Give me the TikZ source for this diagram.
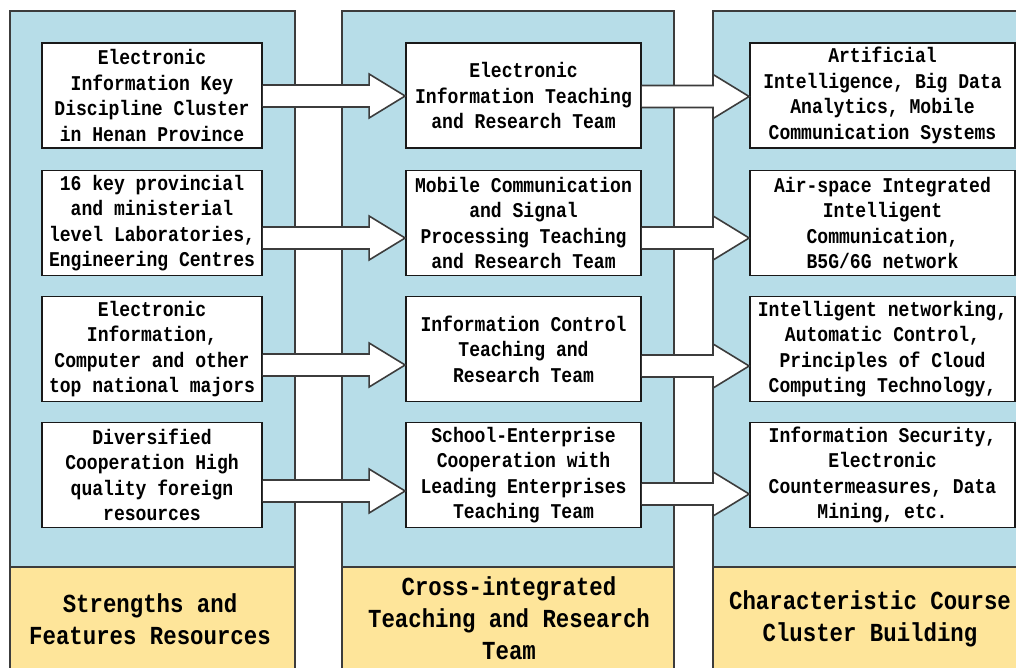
\documentclass[tikz,border=0pt]{standalone}
\usepackage{fontspec}
\newfontfamily\boxfont[FakeStretch=0.86]{Liberation Mono}
\usetikzlibrary{calc}
\definecolor{panelblue}{HTML}{B7DDE8}
\definecolor{titleyellow}{HTML}{FEE59A}
\definecolor{edgegray}{HTML}{3C3C3C}
\tikzset{
  panel/.style={fill=panelblue, draw=edgegray, line width=2pt},
  titlepanel/.style={fill=titleyellow, draw=edgegray, line width=2pt},
  item/.style={draw=black!90, line width=1.8pt, fill=white, align=center,
    inner sep=2pt, minimum height=105pt,
    font=\boxfont\bfseries\fontsize{21}{25.5}\selectfont},
  itemA/.style={item, minimum width=220pt},
  itemB/.style={item, minimum width=235pt},
  itemC/.style={item, minimum width=265pt},
  barrow/.style={fill=white, draw=edgegray, line width=1.6pt, line join=miter},
  titletext/.style={align=center, inner sep=0pt,
    font=\boxfont\bfseries\fontsize{26}{32}\selectfont}
}
% hollow block arrow from #1 to #2, its axis #3 px below the box centres
\newcommand\blockarrow[3]{%
  \filldraw[barrow] let \p1=(#1.east), \p2=(#2.west) in
    (\x1,\y1-#3pt+11pt) -- (\x2-36pt,\y1-#3pt+11pt) -- (\x2-36pt,\y1-#3pt+22pt)
    -- (\x2,\y1-#3pt) -- (\x2-36pt,\y1-#3pt-22pt) -- (\x2-36pt,\y1-#3pt-11pt)
    -- (\x1,\y1-#3pt-11pt);}
\begin{document}
\begin{tikzpicture}[x=1pt,y=-1pt]
\useasboundingbox (0,0) rectangle (1016,668);
\clip (0,0) rectangle (1016,668);
\fill[white] (0,0) rectangle (1016,668);

% column panels
\draw[panel] (10,11) rectangle (295,690);
\draw[panel] (342,11) rectangle (674,690);
\draw[panel] (713,11) rectangle (1046,690);
% title strips
\draw[titlepanel] (10,567) rectangle (295,690);
\draw[titlepanel] (342,567) rectangle (674,690);
\draw[titlepanel] (713,567) rectangle (1046,690);

\node[titletext] (t1) at (150,619.5) {Strengths and\\Features Resources};
\node[titletext] (t2) at (509,618) {Cross-integrated\\Teaching and Research\\Team};
\node[titletext] (t3) at (870,619) {Characteristic Course\\Cluster Building};

% first column: resources
\node[itemA] (a1) at (152,95.5) {Electronic\\Information Key\\Discipline Cluster\\in Henan Province};
\node[itemA] (a2) at (152,223) {16 key provincial\\and ministerial\\level Laboratories,\\Engineering Centres};
\node[itemA] (a3) at (152,349) {Electronic\\Information,\\Computer and other\\top national majors};
\node[itemA] (a4) at (152,475) {Diversified\\Cooperation High\\quality foreign\\resources};

% second column: teams
\node[itemB] (b1) at (523.5,95.5) {Electronic\\Information Teaching\\and Research Team};
\node[itemB] (b2) at (523.5,223) {Mobile Communication\\and Signal\\Processing Teaching\\and Research Team};
\node[itemB] (b3) at (523.5,349) {Information Control\\Teaching and\\Research Team};
\node[itemB] (b4) at (523.5,475) {School-Enterprise\\Cooperation with\\Leading Enterprises\\Teaching Team};

% third column: course clusters
\node[itemC] (c1) at (882.5,95.5) {Artificial\\Intelligence, Big Data\\Analytics, Mobile\\Communication Systems};
\node[itemC] (c2) at (882.5,223) {Air-space Integrated\\Intelligent\\Communication,\\B5G/6G network};
\node[itemC] (c3) at (882.5,349) {Intelligent networking,\\Automatic Control,\\Principles of Cloud\\Computing Technology,};
\node[itemC] (c4) at (882.5,475) {Information Security,\\Electronic\\Countermeasures, Data\\Mining, etc.};

% connectors
\blockarrow{a1}{b1}{0.5}
\blockarrow{a2}{b2}{15}
\blockarrow{a3}{b3}{16}
\blockarrow{a4}{b4}{16}
\blockarrow{b1}{c1}{1}
\blockarrow{b2}{c2}{15}
\blockarrow{b3}{c3}{17}
\blockarrow{b4}{c4}{19}
\end{tikzpicture}
\end{document}
